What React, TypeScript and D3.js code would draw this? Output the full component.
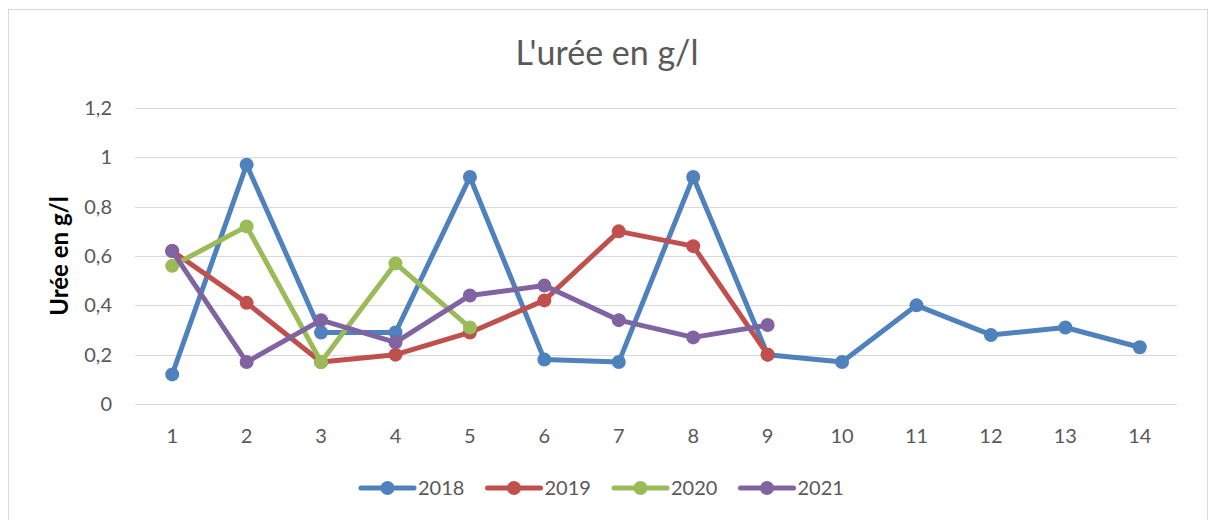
import React from "react";
import * as d3 from "d3";

const categories = ["1", "2", "3", "4", "5", "6", "7", "8", "9", "10", "11", "12", "13", "14"];
const series2018 = [0.12, 0.97, 0.29, 0.29, 0.92, 0.18, 0.17, 0.92, 0.2, 0.17, 0.4, 0.28, 0.31, 0.23];
const series2019 = [0.62, 0.41, 0.17, 0.2, 0.29, 0.42, 0.7, 0.64, 0.2];
const series2020 = [0.56, 0.72, 0.17, 0.57, 0.31];
const series2021 = [0.62, 0.17, 0.34, 0.25, 0.44, 0.48, 0.34, 0.27, 0.32];
const seriesNames = ["2018", "2019", "2020", "2021"];
const seriesColors = ["#4f81bd", "#c0504d", "#9bbb59", "#8064a2"];
const yTicks = [0, 0.2, 0.4, 0.6, 0.8, 1, 1.2];

const W = 1213;
const H = 520;
const FONT = "Lato, 'Open Sans', sans-serif";

export default function App() {
  const allSeries = [series2018, series2019, series2020, series2021];
  const x = d3.scaleBand<string>().domain(categories).range([135, 1177]);
  const y = d3.scaleLinear().domain([0, 1.2]).range([404, 108]);
  const cx = (i: number) => (x(categories[i]) as number) + x.bandwidth() / 2;
  const line = d3
    .line<number>()
    .x((_, i) => cx(i))
    .y((d) => y(d));
  const fmt = (v: number) => String(+v.toFixed(1)).replace(".", ",");

  return (
    <svg
      width={W}
      height={H}
      style={{ position: "absolute", left: 0, top: 0, background: "#fff" }}
      fontFamily={FONT}
    >
      <rect x={8.5} y={9.5} width={1199} height={H + 10} fill="#fff" stroke="#d9d9d9" strokeWidth={1} />
      <text x={607} y={65} textAnchor="middle" fontSize={34} fill="#595959">
        L'urée en g/l
      </text>
      {yTicks.map((t) => (
        <g key={t}>
          <line x1={135} x2={1177} y1={Math.round(y(t)) + 0.5} y2={Math.round(y(t)) + 0.5} stroke="#d9d9d9" strokeWidth={1} />
          <text x={112} y={y(t)} dy="0.35em" textAnchor="end" fontSize={20} fill="#595959">
            {fmt(t)}
          </text>
        </g>
      ))}
      {categories.map((c, i) => (
        <text key={c} x={cx(i)} y={436} dy="0.35em" textAnchor="middle" fontSize={20} fill="#595959">
          {c}
        </text>
      ))}
      <text
        transform={`translate(60,${(y(0) + y(1.2)) / 2}) rotate(-90)`}
        textAnchor="middle"
        dy="0.35em"
        fontSize={24}
        fontWeight="bold"
        fill="#000"
      >
        Urée en g/l
      </text>
      {allSeries.map((s, si) => (
        <g key={seriesNames[si]}>
          <path d={line(s) || ""} fill="none" stroke={seriesColors[si]} strokeWidth={5} strokeLinejoin="round" strokeLinecap="round" />
          {s.map((v, i) => (
            <circle key={i} cx={cx(i)} cy={y(v)} r={7} fill={seriesColors[si]} />
          ))}
        </g>
      ))}
      {seriesNames.map((n, si) => {
        const x0 = 361 + si * 126.5;
        return (
          <g key={n}>
            <line x1={x0} x2={x0 + 53} y1={488} y2={488} stroke={seriesColors[si]} strokeWidth={5} strokeLinecap="round" />
            <circle cx={x0 + 26.5} cy={488} r={7} fill={seriesColors[si]} />
            <text x={x0 + 57} y={488} dy="0.35em" fontSize={20} fill="#595959">
              {n}
            </text>
          </g>
        );
      })}
    </svg>
  );
}
